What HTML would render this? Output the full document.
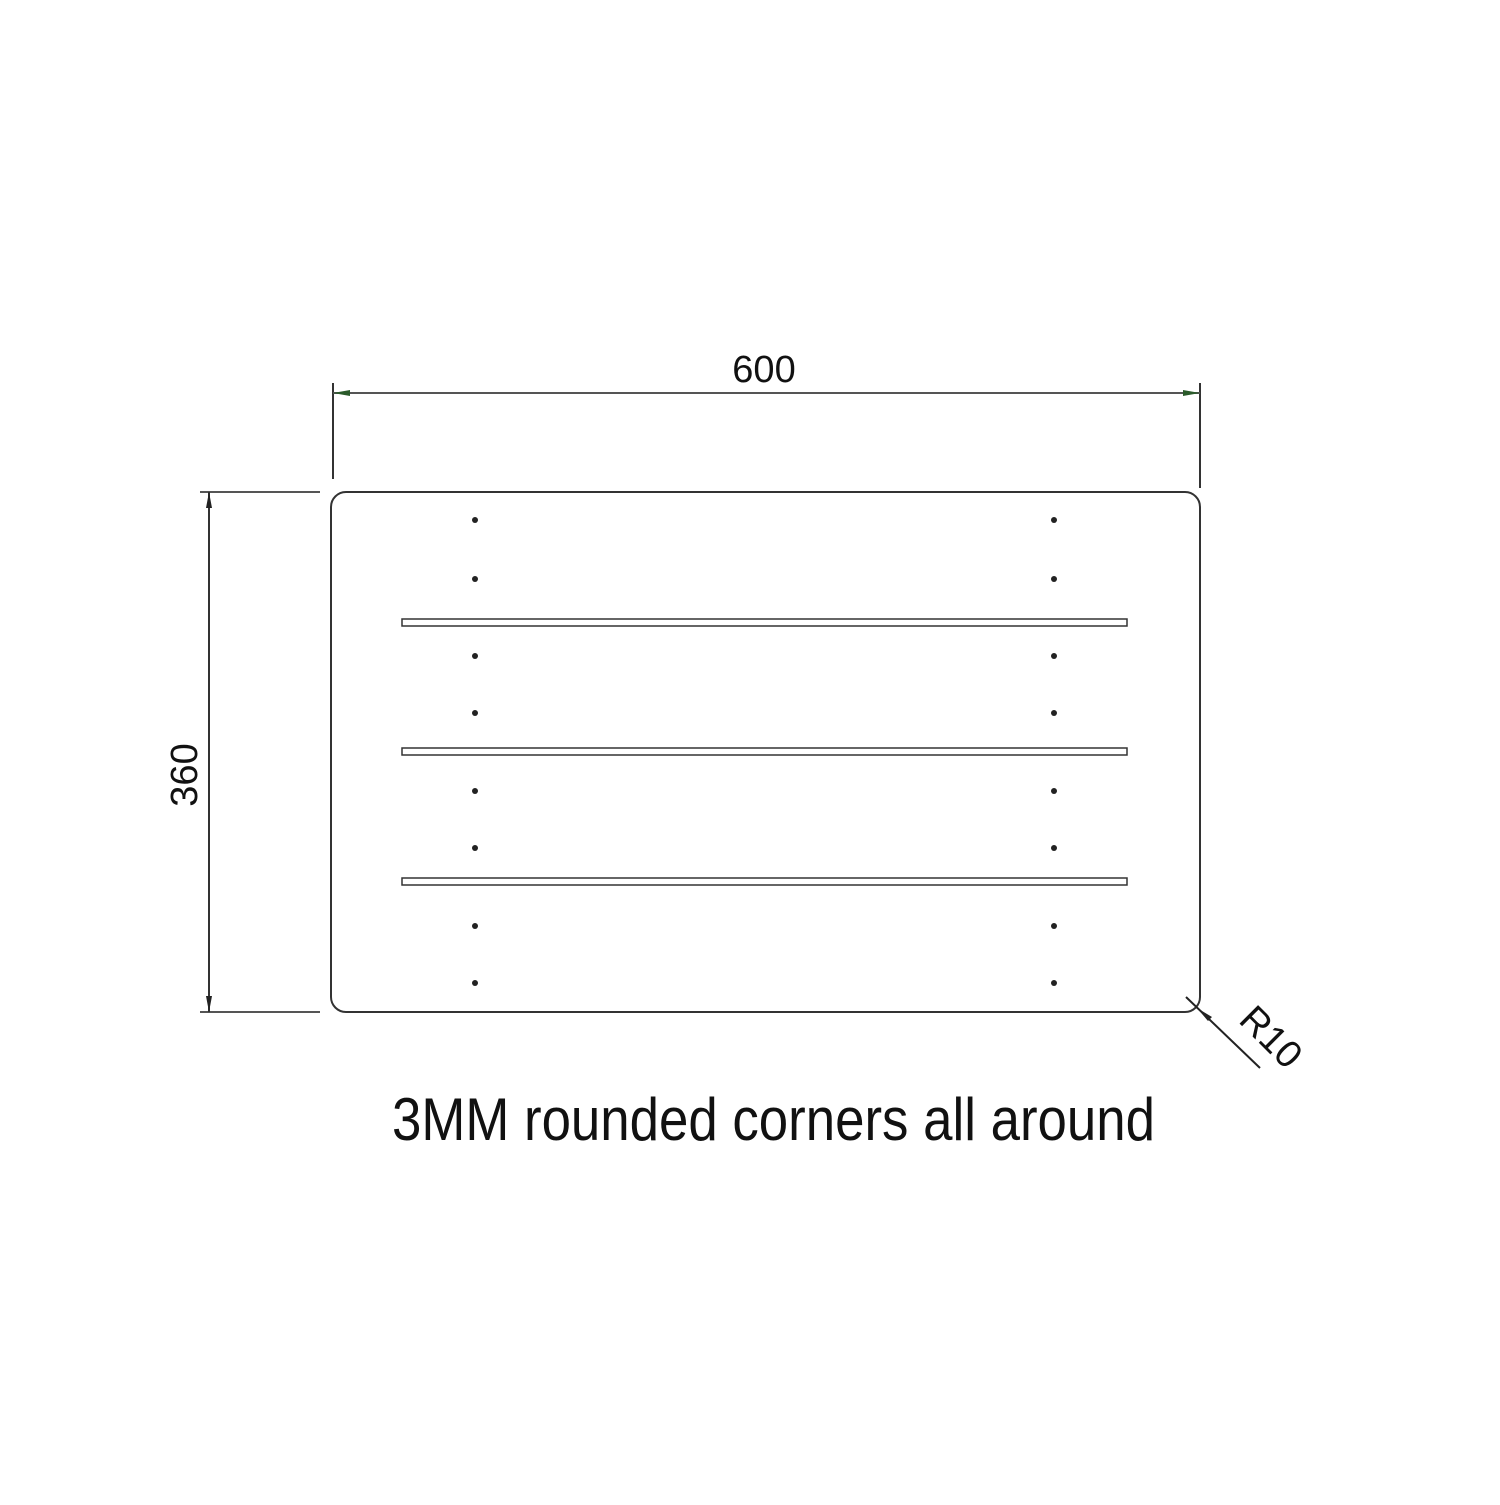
<!DOCTYPE html>
<html><head><style>html,body{margin:0;padding:0;background:#fff}</style></head>
<body>
<svg width="1500" height="1500" viewBox="0 0 1500 1500" xmlns="http://www.w3.org/2000/svg">
<g fill="none" stroke="#333" stroke-width="2">
<rect x="331" y="492" width="869" height="520" rx="15" ry="15"/>
<line x1="333" y1="383" x2="333" y2="479"/>
<line x1="1200" y1="383" x2="1200" y2="488"/>
<line x1="333" y1="393" x2="1200" y2="393" stroke="#555"/>
<line x1="200" y1="492" x2="320" y2="492" stroke="#555"/>
<line x1="200" y1="1012" x2="320" y2="1012" stroke="#555"/>
<line x1="209" y1="492" x2="209" y2="1012"/>
<line x1="1186" y1="997" x2="1260" y2="1068" stroke="#222"/>
<rect x="402" y="619" width="725" height="7" stroke-width="1.5"/>
<rect x="402" y="748" width="725" height="7" stroke-width="1.5"/>
<rect x="402" y="878" width="725" height="7" stroke-width="1.5"/>
</g>
<g fill="#222">
<polygon points="333,393 350,390 350,396" fill="#2a5a2a"/>
<polygon points="1200,393 1183,390 1183,396" fill="#2a5a2a"/>
<polygon points="209,492 206,508 212,508"/>
<polygon points="209,1012 206,996 212,996"/>
<polygon points="1197,1008 1212,1017 1208,1021"/>
<g>
<circle cx="475" cy="520" r="3"/><circle cx="475" cy="579" r="3"/><circle cx="475" cy="656" r="3"/><circle cx="475" cy="713" r="3"/>
<circle cx="475" cy="791" r="3"/><circle cx="475" cy="848" r="3"/><circle cx="475" cy="926" r="3"/><circle cx="475" cy="983" r="3"/>
<circle cx="1054" cy="520" r="3"/><circle cx="1054" cy="579" r="3"/><circle cx="1054" cy="656" r="3"/><circle cx="1054" cy="713" r="3"/>
<circle cx="1054" cy="791" r="3"/><circle cx="1054" cy="848" r="3"/><circle cx="1054" cy="926" r="3"/><circle cx="1054" cy="983" r="3"/>
</g>
</g>
<g font-family="Liberation Sans, sans-serif" fill="#111">
<text x="764" y="382" font-size="38" text-anchor="middle">600</text>
<text x="0" y="0" font-size="38" text-anchor="middle" transform="translate(197,775) rotate(-90)">360</text>
<text x="0" y="0" font-size="38" text-anchor="middle" transform="translate(1262,1046) rotate(45)">R10</text>
<text x="392" y="1140" font-size="60" textLength="763" lengthAdjust="spacingAndGlyphs">3MM rounded corners all around</text>
</g>
</svg>
</body></html>
